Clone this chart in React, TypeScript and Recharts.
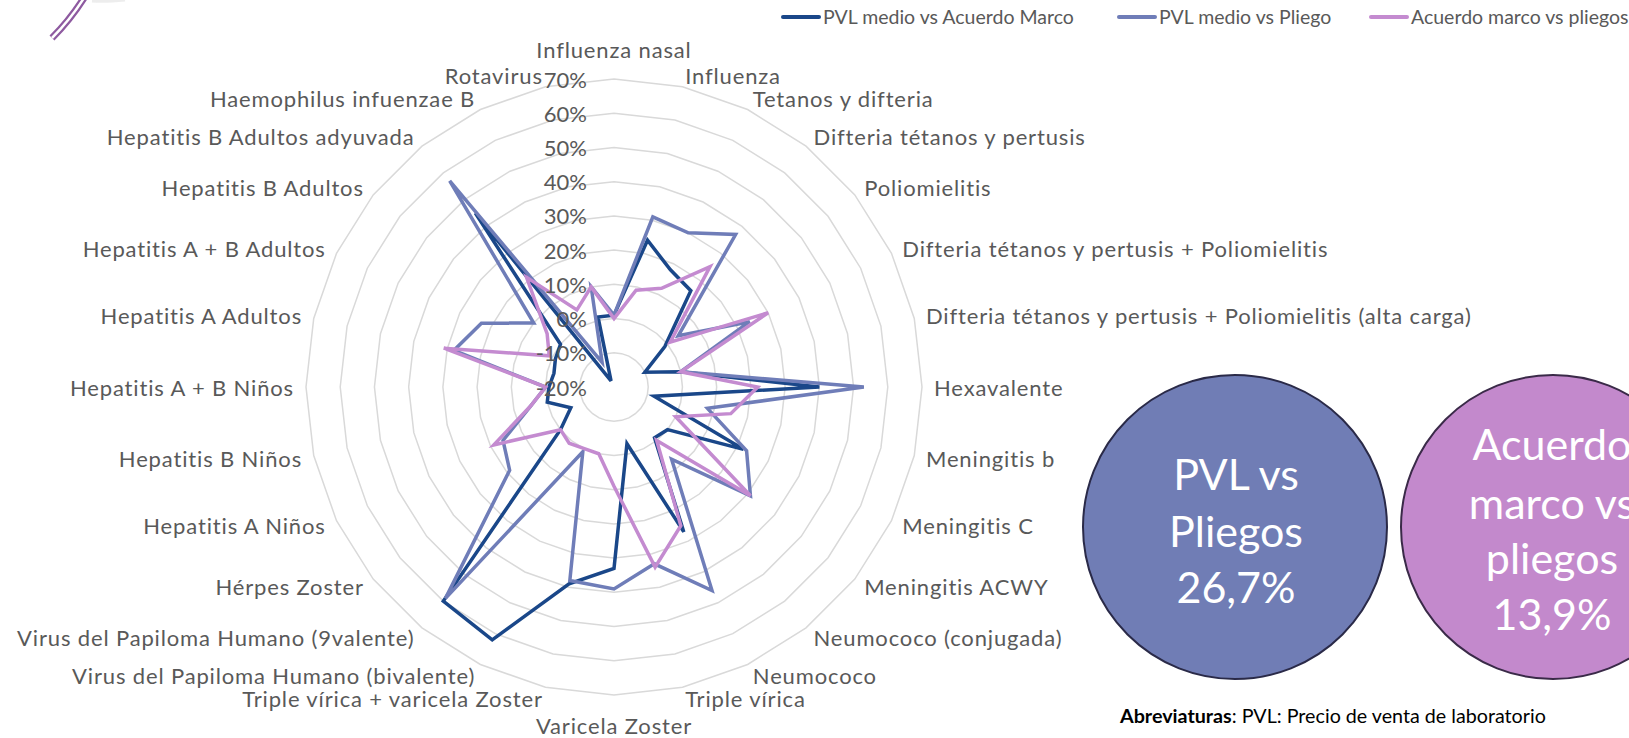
import React from 'react';
import { RadarChart, Radar, PolarGrid, PolarAngleAxis, PolarRadiusAxis, Legend } from 'recharts';

const CATEGORIES = [
    'Influenza nasal',
    'Influenza',
    'Tetanos y difteria',
    'Difteria tétanos y pertusis',
    'Poliomielitis',
    'Difteria tétanos y pertusis + Poliomielitis',
    'Difteria tétanos y pertusis + Poliomielitis (alta carga)',
    'Hexavalente',
    'Meningitis b',
    'Meningitis C',
    'Meningitis ACWY',
    'Neumococo (conjugada)',
    'Neumococo',
    'Triple vírica',
    'Varicela Zoster',
    'Triple vírica + varicela Zoster',
    'Virus del Papiloma Humano (bivalente)',
    'Virus del Papiloma Humano (9valente)',
    'Hérpes Zoster',
    'Hepatitis A Niños',
    'Hepatitis B Niños',
    'Hepatitis A + B Niños',
    'Hepatitis A Adultos',
    'Hepatitis A + B Adultos',
    'Hepatitis B Adultos',
    'Hepatitis B Adultos adyuvada',
    'Haemophilus infuenzae B',
    'Rotavirus',
];

// percent values
const PVL_VS_ACUERDO = [1, 24, 18, 16, -1, -10, 0, 40, -8, 22, 0, -1, 27, -3, 33, 39, 62, 60, 0, -6, 0, -1, -2, -1, 0, 45, -18, 1];
const PVL_VS_PLIEGO = [1, 31, 30, 37, 4, 24, 0, 53, 8, 23, 31, 7, 46, 33, 39, 38, 1, 59, 19, 16, 5, 0, 28, 23, 10, 57, -12, 10];
const ACUERDO_VS_PLIEGOS = [0, 9, 12, 25, 1, 30, 0, 22, 15, 0, 31, 0, 25, 34, 9, 0, 0, 1, 0, 19, 5, 0, 31, 1, 5, 21, 5, 10];

const RADIUS_TICKS = [-20, -10, 0, 10, 20, 30, 40, 50, 60, 70];

const SERIES_NAMES = ['PVL medio vs Acuerdo Marco', 'PVL medio vs Pliego', 'Acuerdo marco vs pliegos'];

const data = CATEGORIES.map((name, i) => ({
    name,
    acuerdo: PVL_VS_ACUERDO[i],
    pliego: PVL_VS_PLIEGO[i],
    pliegos: ACUERDO_VS_PLIEGOS[i],
}));

const W = 1629;
const H = 738;
const CX = 614;
const CY = 387;
const R = 308;
const FONT = 'Lato, "Noto Sans", sans-serif';

const AngleTick = (props: any) => {
    const { x, y, payload } = props;
    const dx = x - CX;
    const dy = y - CY;
    const len = Math.hypot(dx, dy) || 1;
    const ux = dx / len;
    const uy = dy / len;
    let px = CX + 320 * ux;
    let py = CY + 320 * uy;
    let anchor = 'middle';
    if (ux > 0.01) anchor = 'start';
    else if (ux < -0.01) anchor = 'end';
    else py += uy * 18;
    return (
        <text x={px} y={py} textAnchor={anchor} dominantBaseline="central" fontSize={22} letterSpacing={0.85} fill="#595959" fontFamily={FONT}>
            {payload.value}
        </text>
    );
};

const RadiusTick = (props: any) => {
    const { x, y, payload } = props;
    return (
        <text x={x - 27} y={y} textAnchor="end" dominantBaseline="central" fontSize={22} fill="#595959" fontFamily={FONT}>
            {payload.value}%
        </text>
    );
};

const LEGEND_X = [781, 1117, 1369];

const renderLegend = (props: any) => {
    const items = [...(props.payload || [])].sort(
        (a: any, b: any) => SERIES_NAMES.indexOf(a.value) - SERIES_NAMES.indexOf(b.value)
    );
    return (
        <div style={{ position: 'relative', width: W, height: 30 }}>
            {items.map((entry: any, i: number) => (
                <div key={entry.value} style={{ position: 'absolute', left: LEGEND_X[i], top: 0, display: 'flex', alignItems: 'center', whiteSpace: 'nowrap' }}>
                    <div style={{ width: 40, height: 4, borderRadius: 2, background: entry.color, marginRight: 2 }} />
                    <span style={{ fontSize: 19.5, color: '#595959', fontFamily: FONT }}>{entry.value}</span>
                </div>
            ))}
        </div>
    );
};

const bubbleText = { textAnchor: 'middle' as const, dominantBaseline: 'central' as const, fontSize: 43, fill: '#fff', fontFamily: FONT };

export default function App() {
    return (
        <div style={{ position: 'absolute', left: 0, top: 0, width: W, height: H, background: '#fff', overflow: 'hidden', fontFamily: FONT }}>
            <RadarChart width={W} height={H} data={data} cx={CX} cy={CY} outerRadius={R} margin={{ top: 0, right: 0, bottom: 0, left: 0 }}>
                <PolarGrid gridType="polygon" radialLines={false} stroke="#d9d9d9" strokeWidth={1.5} />
                <PolarAngleAxis dataKey="name" tick={AngleTick} tickLine={false} axisLine={false} />
                <PolarRadiusAxis angle={90} domain={[-20, 70]} ticks={RADIUS_TICKS} tickCount={10} axisLine={false} tick={RadiusTick} />
                <Radar name={SERIES_NAMES[0]} dataKey="acuerdo" stroke="#1a4789" strokeWidth={3.5} fill="none" fillOpacity={0} dot={false} isAnimationActive={false} />
                <Radar name={SERIES_NAMES[1]} dataKey="pliego" stroke="#6f7db8" strokeWidth={3.5} fill="none" fillOpacity={0} dot={false} isAnimationActive={false} />
                <Radar name={SERIES_NAMES[2]} dataKey="pliegos" stroke="#c48bd0" strokeWidth={3.5} fill="none" fillOpacity={0} dot={false} isAnimationActive={false} />
                <Legend content={renderLegend} wrapperStyle={{ position: 'absolute', left: 0, top: 5, width: W }} />
            </RadarChart>

            <svg width={W} height={H} style={{ position: 'absolute', left: 0, top: 0, pointerEvents: 'none' }}>
                {/* decorative arc, top left */}
                <path d="M84,-2 Q70,20 52,38" fill="none" stroke="#8e5aa0" strokeWidth={7} />
                <path d="M84,-2 Q70,20 52,38" fill="none" stroke="#fff" strokeWidth={2.5} />
                <path d="M92,1 Q105,2 125,0" fill="none" stroke="#e6e6e6" strokeWidth={3} opacity={0.7} />

                <circle cx={1235} cy={527} r={152} fill="#707db5" stroke="#2a2a48" strokeWidth={2} />
                <text x={1236} y={473} {...bubbleText}>PVL vs</text>
                <text x={1236} y={530} {...bubbleText}>Pliegos</text>
                <text x={1236} y={586} {...bubbleText}>26,7%</text>

                {/* this bubble runs off the right edge, as in the original */}
                <circle cx={1553} cy={527} r={152} fill="#c389cc" stroke="#3a2a48" strokeWidth={2} />
                <text x={1552} y={443} {...bubbleText}>Acuerdo</text>
                <text x={1552} y={502} {...bubbleText}>marco vs</text>
                <text x={1552} y={557} {...bubbleText}>pliegos</text>
                <text x={1552} y={613} {...bubbleText}>13,9%</text>

                <text x={1120} y={715} dominantBaseline="central" fontSize={19.7} fill="#000" fontFamily={FONT}>
                    <tspan fontWeight="bold">Abreviaturas</tspan>: PVL: Precio de venta de laboratorio
                </text>
            </svg>
        </div>
    );
}
